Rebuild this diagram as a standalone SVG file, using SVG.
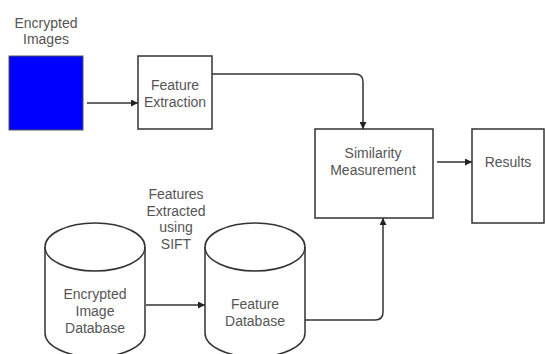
<svg xmlns="http://www.w3.org/2000/svg" width="545" height="354" viewBox="0 0 545 354">
<defs>
<marker id="arr" viewBox="0 0 10 10" refX="10" refY="5" markerWidth="7" markerHeight="7" markerUnits="userSpaceOnUse" orient="auto">
<path d="M0,0 L10,5 L0,10 Z" fill="#222"/>
</marker>
<style>
.box{fill:#fff;stroke:#333;stroke-width:1.5}
.t{font-family:"Liberation Sans",Arial,sans-serif;font-size:14px;fill:#555;text-anchor:middle}
.c{fill:none;stroke:#333;stroke-width:1.5}
</style>
</defs>
<rect width="545" height="354" fill="#fff"/>
<g id="encrypted-images">
<text class="t" x="46" y="28">Encrypted</text>
<text class="t" x="46" y="44">Images</text>
<rect x="9" y="56" width="74" height="74" fill="#0000ff" stroke="#555" stroke-width="1"/>
</g>
<g id="feature-extraction">
<rect class="box" x="138" y="56" width="74" height="73"/>
<text class="t" x="175" y="90">Feature</text>
<text class="t" x="175" y="107">Extraction</text>
</g>
<g id="similarity">
<rect class="box" x="315" y="129" width="118" height="89"/>
<text class="t" x="373" y="158">Similarity</text>
<text class="t" x="373" y="175">Measurement</text>
</g>
<g id="results">
<rect class="box" x="472" y="129" width="72" height="94"/>
<text class="t" x="508" y="167">Results</text>
</g>
<g id="sift-label">
<text class="t" x="176" y="199">Features</text>
<text class="t" x="176" y="216">Extracted</text>
<text class="t" x="176" y="232">using</text>
<text class="t" x="176" y="249">SIFT</text>
</g>
<g id="encrypted-image-db">
<path class="box" d="M45,247 L45,333 A50,24 0 0 0 145,333 L145,247 A50,24 0 0 0 45,247 Z"/>
<path class="c" d="M45,247 A50,24 0 0 0 145,247"/>
<text class="t" x="95" y="299">Encrypted</text>
<text class="t" x="95" y="316">Image</text>
<text class="t" x="95" y="333">Database</text>
</g>
<g id="feature-db">
<path class="box" d="M205,247 L205,333 A50,24 0 0 0 305,333 L305,247 A50,24 0 0 0 205,247 Z"/>
<path class="c" d="M205,247 A50,24 0 0 0 305,247"/>
<text class="t" x="255" y="309">Feature</text>
<text class="t" x="255" y="326">Database</text>
</g>
<g id="connectors">
<path class="c" d="M87,103 L138,103" marker-end="url(#arr)"/>
<path class="c" d="M212,74 L355,74 Q363,74 363,82 L363,129" marker-end="url(#arr)"/>
<path class="c" d="M437,162 L472,162" marker-end="url(#arr)"/>
<path class="c" d="M305,320 L375,320 Q383,320 383,312 L383,218" marker-end="url(#arr)"/>
<path class="c" d="M146,305 L205,305" marker-end="url(#arr)"/>
</g>
</svg>
